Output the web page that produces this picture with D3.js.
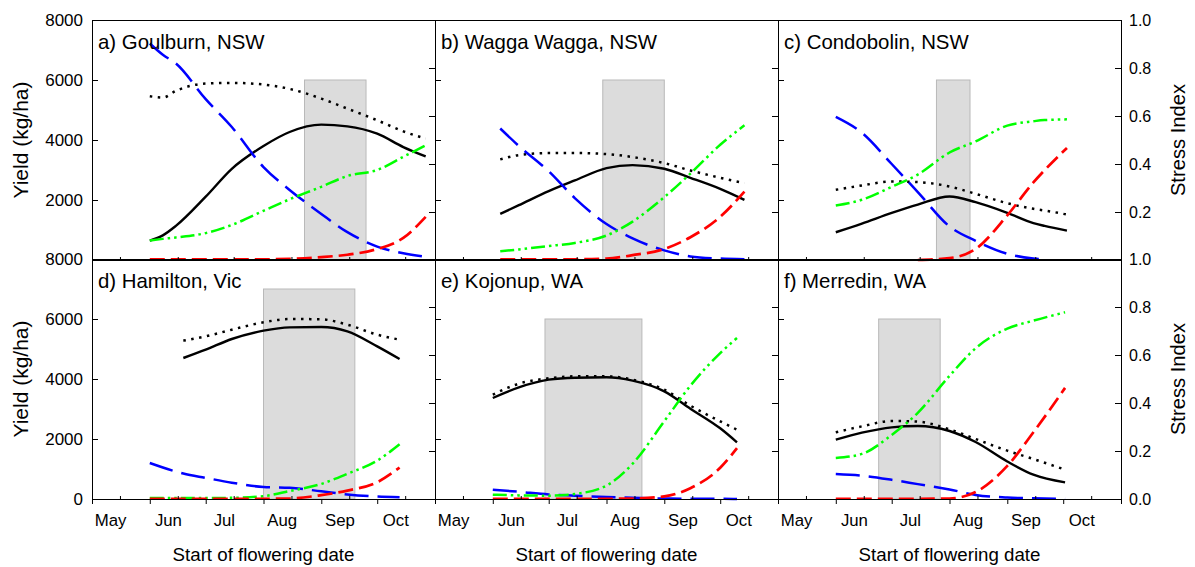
<!DOCTYPE html>
<html><head><meta charset="utf-8">
<script src="https://cdn.jsdelivr.net/npm/d3@7"></script>
<style>
body{margin:0;background:#fff}
svg{display:block}
</style>
</head><body>
<svg id="c" width="1195" height="567"></svg>
<script>
// ---------- tick labels / axes ----------
const monthLabels = ["May","Jun","Jul","Aug","Sep","Oct"];
const monthTickDates = ["05-01","06-01","07-01","08-01","09-01","10-01","11-01"];
const monthLabelDates = ["05-11","06-11","07-11","08-11","09-11","10-11"];
const minorTickDates = ["05-16","06-16","07-16","08-16","09-16","10-16"];
const yieldTicks = [0,2000,4000,6000,8000];
const stressTicks = [0,0.2,0.4,0.6,0.8,1.0];
const panelTitles = ["a) Goulburn, NSW","b) Wagga Wagga, NSW","c) Condobolin, NSW",
                     "d) Hamilton, Vic","e) Kojonup, WA","f) Merredin, WA"];

// ---------- a) Goulburn ----------
const datesA   = ["06-01","06-08","06-15","07-01","07-15","08-01","08-15","09-01","09-15","10-01","10-15","10-27"];
const yieldA   = [646,820,1136,2110,3040,3800,4267,4512,4456,4211,3765,3453];
const potA     = [5458,5414,5637,5882,5904,5849,5704,5380,5046,4656,4289,4044];
const frostA   = [0.902,0.855,0.819,0.670,0.554,0.387,0.292,0.192,0.116,0.056,0.028,0.014];
const droughtA = [0.081,0.088,0.094,0.112,0.146,0.205,0.253,0.305,0.350,0.375,0.430,0.478];
const heatA    = [0.003,0.003,0.003,0.003,0.003,0.003,0.005,0.012,0.022,0.046,0.092,0.180];
const boxA     = ["08-23","09-25",6000];

// ---------- b) Wagga Wagga ----------
const datesB   = ["06-05","06-15","07-01","07-15","08-01","08-15","09-01","09-15","10-01","10-14"];
const yieldB   = [1537,1827,2295,2651,3063,3164,3041,2741,2373,2005];
const potB     = [3353,3498,3565,3565,3531,3431,3230,2985,2741,2562];
const frostB   = [0.548,0.475,0.370,0.258,0.150,0.090,0.040,0.015,0.006,0.003];
const droughtB = [0.036,0.044,0.058,0.071,0.102,0.160,0.262,0.360,0.480,0.561];
const heatB    = [0.003,0.003,0.003,0.003,0.006,0.020,0.046,0.095,0.180,0.285];
const boxB     = ["07-30","09-01",6000];

// ---------- c) Condobolin ----------
const datesC   = ["06-01","06-15","07-01","07-15","08-01","08-15","09-01","09-15","09-21","10-03"];
const yieldC   = [925,1214,1571,1849,2117,1927,1571,1230,1136,980];
const potC     = [2340,2484,2618,2596,2451,2206,1894,1705,1650,1515];
const frostC   = [0.596,0.530,0.400,0.283,0.140,0.080,0.026,0.006,0.002,null];
const droughtC = [0.227,0.251,0.305,0.356,0.448,0.494,0.560,0.578,0.583,0.586];
const heatC    = [null,null,null,0.000,0.008,0.046,0.186,0.323,0.374,0.467];
const boxC     = ["07-25","08-12",6000];

// ---------- d) Hamilton ----------
const datesD   = ["06-01","06-19","07-01","07-15","08-01","08-15","09-01","09-15","10-01","10-13"];
const yieldD   = [null,4700,4978,5333,5611,5722,5733,5589,5089,4667];
const potD     = [null,5278,5422,5644,5889,6000,5989,5811,5478,5311];
const frostD   = [0.150,0.106,0.088,0.068,0.050,0.047,0.032,0.019,0.010,0.007];
const droughtD = [0.004,0.004,0.004,0.005,0.012,0.033,0.063,0.105,0.160,0.228];
const heatD    = [0.001,0.001,0.001,0.001,0.001,0.002,0.016,0.035,0.070,0.131];
const boxD     = ["08-01","09-19",7000];

// ---------- e) Kojonup ----------
const datesE   = ["06-01","06-15","07-01","07-15","08-01","08-15","09-01","09-15","10-01","10-10"];
const yieldE   = [3367,3722,3978,4044,4056,3944,3589,3011,2356,1889];
const potE     = [3478,3844,4022,4089,4089,3978,3644,3111,2589,2311];
const frostE   = [0.039,0.030,0.019,0.014,0.008,0.005,0.002,0.001,0.001,0.000];
const droughtE = [0.018,0.015,0.014,0.021,0.056,0.147,0.324,0.472,0.608,0.671];
const heatE    = [0.001,0.001,0.001,0.001,0.001,0.002,0.011,0.045,0.130,0.212];
const boxE     = ["06-29","08-20",6000];

// ---------- f) Merredin ----------
const datesF   = ["06-01","06-15","07-01","07-15","08-01","08-15","09-01","09-15","10-02"];
const yieldF   = [1978,2211,2389,2433,2267,1900,1251,811,556];
const potF     = [2222,2422,2600,2578,2322,2000,1611,1333,978];
const frostF   = [0.104,0.097,0.080,0.062,0.040,0.017,0.006,0.003,0.001];
const droughtF = [0.171,0.188,0.267,0.359,0.513,0.628,0.710,0.743,0.778];
const heatF    = [0.001,0.001,0.001,0.001,0.002,0.029,0.138,0.278,0.463];
const boxF     = ["06-24","07-27",6000];

const panels = [
  {dates:datesA,yield:yieldA,pot:potA,frost:frostA,drought:droughtA,heat:heatA,box:boxA},
  {dates:datesB,yield:yieldB,pot:potB,frost:frostB,drought:droughtB,heat:heatB,box:boxB},
  {dates:datesC,yield:yieldC,pot:potC,frost:frostC,drought:droughtC,heat:heatC,box:boxC},
  {dates:datesD,yield:yieldD,pot:potD,frost:frostD,drought:droughtD,heat:heatD,box:boxD},
  {dates:datesE,yield:yieldE,pot:potE,frost:frostE,drought:droughtE,heat:heatE,box:boxE},
  {dates:datesF,yield:yieldF,pot:potF,frost:frostF,drought:droughtF,heat:heatF,box:boxF}
];

// ---------- drawing ----------
const FONT = '"Liberation Sans", Arial, Helvetica, sans-serif';
const svg = d3.select("#c");
const colX = [92,435,778], rowY = [20,259], W = 343, H = 240;
const pDate = d3.timeParse("%Y-%m-%d");
const md = s => pDate("2001-" + s);
const xDomain = [md("05-01"), md("11-01")];

panels.forEach((p, i) => {
  const col = i % 3, row = Math.floor(i / 3);
  const x0 = colX[col], y0 = rowY[row];
  const x = d3.scaleTime().domain(xDomain).range([x0, x0 + W]);
  const yY = d3.scaleLinear().domain([0, 8000]).range([y0 + H, y0]);
  const yS = d3.scaleLinear().domain([0, 1]).range([y0 + H, y0]);
  const g = svg.append("g");

  // grey flowering window
  const bx0 = x(md(p.box[0])), bx1 = x(md(p.box[1]));
  g.append("rect")
    .attr("x", bx0).attr("width", bx1 - bx0)
    .attr("y", yY(p.box[2])).attr("height", yY(0) - yY(p.box[2]))
    .attr("fill", "#dcdcdc").attr("stroke", "#b9b9b9").attr("stroke-width", 1);

  const pts = p.dates.map(md);
  const series = [
    {v: p.yield,   s: yY, color: "#000000", dash: null,               w: 2.4},
    {v: p.pot,     s: yY, color: "#000000", dash: "2.5,5.5",          w: 2.5},
    {v: p.frost,   s: yS, color: "#0000ff", dash: "24,9",             w: 2.5},
    {v: p.drought, s: yS, color: "#00ff00", dash: "14,4,2.5,4,2.5,4", w: 2.5},
    {v: p.heat,    s: yS, color: "#ff0000", dash: "15,6",             w: 2.7}
  ];
  series.forEach(s => {
    const line = d3.line()
      .defined(d => d[1] != null)
      .x(d => x(d[0])).y(d => s.s(d[1]))
      .curve(d3.curveMonotoneX);
    g.append("path")
      .datum(pts.map((d, k) => [d, s.v[k]]))
      .attr("d", line)
      .attr("fill", "none")
      .attr("stroke", s.color)
      .attr("stroke-width", s.w)
      .attr("stroke-dasharray", s.dash);
  });

  // left yield axis (ticks inward); the top row's 0 sits under the lower row's 8000
  const la = d3.axisLeft(yY).tickValues(yieldTicks).tickSizeInner(-6).tickSizeOuter(0).tickPadding(9)
    .tickFormat(col === 0 ? (d => (row === 0 && d === 0) ? "" : d3.format("d")(d)) : "");
  const lg = g.append("g").attr("transform", `translate(${x0},0)`).call(la);
  lg.select(".domain").remove();
  lg.attr("font-family", FONT).attr("font-size", 17);
  lg.selectAll("text").attr("fill", "#000");

  // right stress axis (ticks inward)
  const ra = d3.axisRight(yS).tickValues(stressTicks).tickSizeInner(-6).tickSizeOuter(0).tickPadding(8)
    .tickFormat(col === 2 ? (d => (row === 0 && d === 0) ? "" : d3.format(".1f")(d)) : "");
  const rg = g.append("g").attr("transform", `translate(${x0 + W},0)`).call(ra);
  rg.select(".domain").remove();
  rg.attr("font-family", FONT).attr("font-size", 16);
  rg.selectAll("text").attr("fill", "#000");

  // minor mid-month ticks (inward)
  const mg = g.append("g").attr("transform", `translate(0,${y0 + H})`)
    .call(d3.axisBottom(x).tickValues(minorTickDates.map(md)).tickSizeInner(-3).tickSizeOuter(0).tickFormat(""));
  mg.select(".domain").remove();

  if (row === 1) {
    const bg = g.append("g").attr("transform", `translate(0,${y0 + H})`)
      .call(d3.axisBottom(x).tickValues(monthTickDates.map(md)).tickSizeInner(5).tickSizeOuter(0).tickFormat(""));
    bg.select(".domain").remove();
    g.selectAll(".mlab").data(monthLabels).enter().append("text")
      .attr("x", (d, k) => x(md(monthLabelDates[k])))
      .attr("y", 526)
      .attr("text-anchor", "middle")
      .attr("font-family", FONT).attr("font-size", 16.8)
      .text(d => d);
    g.append("text")
      .attr("x", x0 + W / 2).attr("y", 561)
      .attr("text-anchor", "middle")
      .attr("font-family", FONT).attr("font-size", 18.7)
      .text("Start of flowering date");
  }

  // frame
  g.append("rect")
    .attr("x", x0 + 0.5).attr("y", y0 + 0.5).attr("width", W).attr("height", H)
    .attr("fill", "none").attr("stroke", "#000").attr("stroke-width", 1);

  // panel title
  g.append("text")
    .attr("x", x0 + 6).attr("y", y0 + 28.5)
    .attr("font-family", FONT).attr("font-size", 20.4)
    .text(panelTitles[i]);

  if (col === 0) {
    g.append("text")
      .attr("transform", `translate(28,${y0 + H / 2}) rotate(-90)`)
      .attr("text-anchor", "middle")
      .attr("font-family", FONT).attr("font-size", 21)
      .text("Yield (kg/ha)");
  }
  if (col === 2) {
    g.append("text")
      .attr("transform", `translate(1185,${y0 + H / 2}) rotate(-90)`)
      .attr("text-anchor", "middle")
      .attr("font-family", FONT).attr("font-size", 20.2)
      .text("Stress Index");
  }
});
</script>
</body></html>
